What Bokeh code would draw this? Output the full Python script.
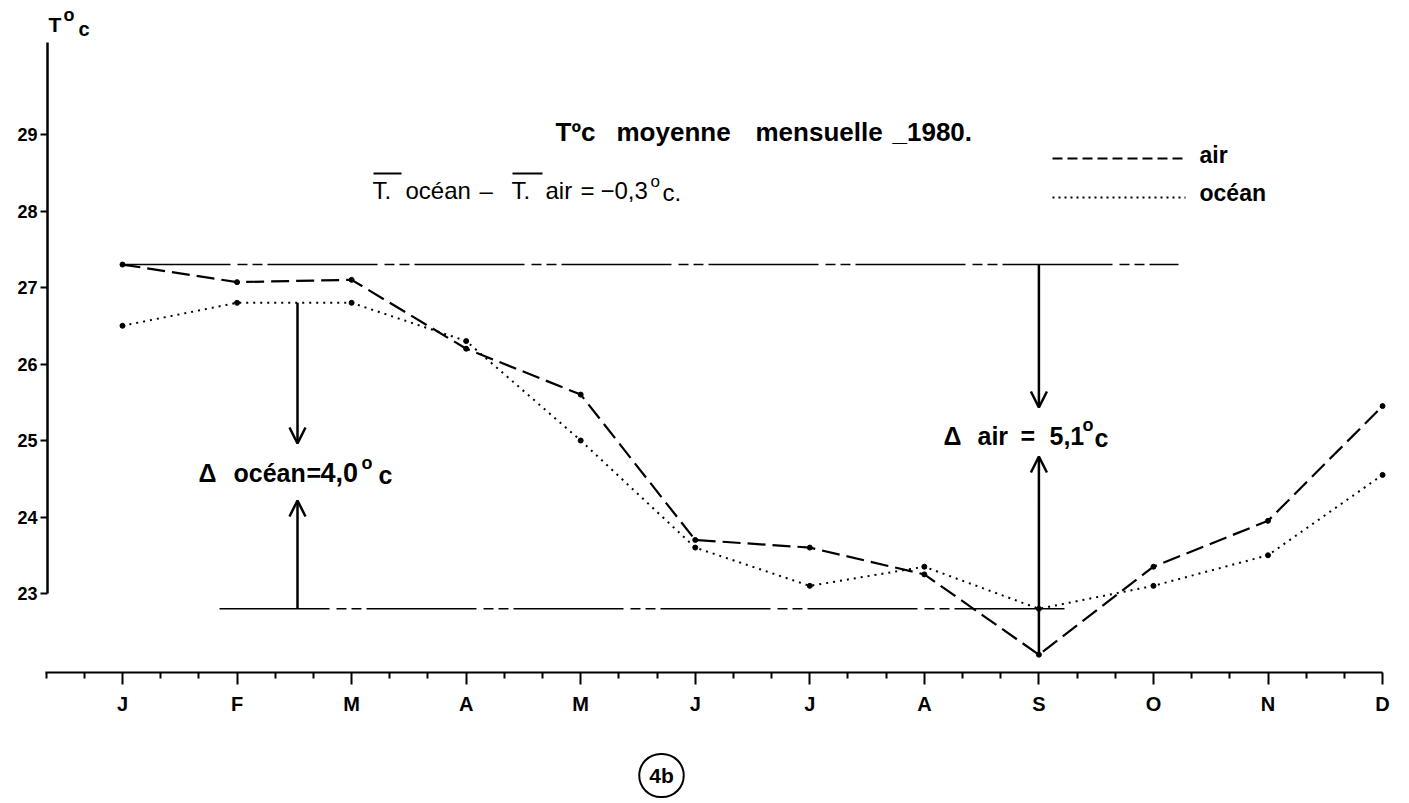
from bokeh.plotting import figure
from bokeh.models import Range1d, FixedTicker, Label, Arrow, OpenHead
from bokeh.embed import file_html
from bokeh.resources import INLINE

# ---------------- data ----------------
months = ["J", "F", "M", "A", "M", "J", "J", "A", "S", "O", "N", "D"]
month_idx = list(range(1, 13))
air = [27.3, 27.07, 27.1, 26.2, 25.6, 23.7, 23.6, 23.25, 22.2, 23.35, 23.95, 25.45]
ocean = [26.5, 26.8, 26.8, 26.3, 25.0, 23.6, 23.1, 23.35, 22.8, 23.1, 23.5, 24.55]
y_ticks = [23, 24, 25, 26, 27, 28, 29]

FONT = "Liberation Sans"
W, H = 1400, 800


# page-pixel -> data helpers (used only for annotation placement)
def mx(px):
    return 1 + (px - 122) / 114.55


def vy(py):
    return 27 - (py - 287) / 76.5


p = figure(width=W, height=H, output_backend="svg", toolbar_location=None,
           x_range=Range1d(mx(0), mx(W)), y_range=Range1d(vy(H), vy(0)),
           min_border=0)
p.outline_line_color = None
p.grid.visible = False
p.background_fill_color = "white"

# ---------------- axes ----------------
xa = p.xaxis[0]
xa.fixed_location = vy(672)
minor = [k / 3 for k in range(1, 37) if k % 3 != 0]
xa.ticker = FixedTicker(ticks=month_idx, minor_ticks=minor)
xa.major_label_overrides = {i: m for i, m in zip(month_idx, months)}
xa.bounds = (mx(45), 12)
xa.axis_line_width = 2
xa.axis_line_color = "black"
xa.major_tick_out = 12
xa.major_tick_in = 0
xa.minor_tick_out = 6
xa.minor_tick_in = 0
xa.major_tick_line_width = 2
xa.minor_tick_line_width = 2
xa.major_label_standoff = 8
xa.major_label_text_font = FONT
xa.major_label_text_font_style = "bold"
xa.major_label_text_font_size = "20px"
xa.major_label_text_color = "black"

ya = p.yaxis[0]
ya.fixed_location = mx(47)
ya.ticker = FixedTicker(ticks=y_ticks, minor_ticks=[])
ya.bounds = (23, vy(42))
ya.axis_line_width = 2.5
ya.axis_line_color = "black"
ya.major_tick_out = 7
ya.major_tick_in = 0
ya.minor_tick_out = 0
ya.minor_tick_in = 0
ya.major_tick_line_width = 2
ya.major_label_standoff = 3
ya.major_label_text_font = FONT
ya.major_label_text_font_style = "bold"
ya.major_label_text_font_size = "18px"
ya.major_label_text_color = "black"

# ---------------- reference lines (max air / min ocean) ----------------
ref_dash = "110 7 10 5 10 5"
p.line([mx(120), mx(1178)], [max(air), max(air)], line_color="black",
       line_width=1.6, line_dash=ref_dash)
p.line([mx(219), mx(1068)], [min(ocean), min(ocean)], line_color="black",
       line_width=1.6, line_dash=ref_dash)

# ---------------- series ----------------
p.line(month_idx, air, line_color="black", line_width=2.2, line_dash="18 7")
p.scatter(month_idx, air, size=5, color="black")
p.line(month_idx, ocean, line_color="black", line_width=2, line_dash="2 5")
p.scatter(month_idx, ocean, size=5, color="black")


# ---------------- arrows ----------------
def arrow(x, y0, y1):
    p.add_layout(Arrow(end=OpenHead(size=16, line_width=2.5, line_color="black"),
                       x_start=x, y_start=y0, x_end=x, y_end=y1,
                       line_width=2.5, line_color="black"))


xo = mx(297)
arrow(xo, max(ocean), vy(443))
arrow(xo, min(ocean), vy(500))
xs = 9
arrow(xs, max(air), vy(407))
arrow(xs, min(air), vy(456))


# ---------------- texts ----------------
def label(px, py, text, size="25px", style="bold", align="left"):
    p.add_layout(Label(x=mx(px), y=vy(py), text=text, text_font=FONT,
                       text_font_size=size, text_font_style=style,
                       text_align=align, text_baseline="middle",
                       text_color="black"))


# delta ocean
label(198, 472, "\u0394")
label(233, 472, "océan")
label(306, 472, "=")
label(320, 472, "4,0", size="27px")
label(361, 462, "o", size="18px")
label(378, 474, "c")
# delta air
label(943, 435, "\u0394")
label(977, 435, "air")
label(1020, 435, "=")
label(1049, 435, "5,1")
label(1082, 424, "o", size="18px")
label(1094, 437, "c")

# title
label(555, 131, "Tºc", size="26px")
label(616, 131, "moyenne", size="26px")
label(755, 131, "mensuelle", size="26px")
label(892, 131, "_1980.", size="26px")

# second line with overbars
label(372, 190, "T.", size="24px", style="normal")
label(405, 190, "océan", size="24px", style="normal")
label(479, 190, "–", size="24px", style="normal")
label(511, 190, "T.", size="24px", style="normal")
label(545, 190, "air", size="24px", style="normal")
label(580, 190, "=", size="24px", style="normal")
label(600, 190, "−0,3", size="24px", style="normal")
label(650, 181, "o", size="17px", style="normal")
label(662, 192, "c.", size="24px", style="normal")
p.line([mx(373), mx(401)], [vy(173), vy(173)], line_color="black", line_width=2)
p.line([mx(512), mx(542)], [vy(173), vy(173)], line_color="black", line_width=2)

# legend
p.line([mx(1052), mx(1185)], [vy(158), vy(158)], line_color="black",
       line_width=2.2, line_dash="10 5")
p.line([mx(1052), mx(1185)], [vy(197), vy(197)], line_color="black",
       line_width=2, line_dash="2 4")
label(1199, 154, "air", size="23px")
label(1199, 192, "océan", size="23px")

# y-axis title
label(48, 24, "T", size="21px")
label(63, 14, "o", size="18px")
label(78, 28, "c", size="20px")

# figure tag
p.add_layout(Label(x=mx(661), y=vy(775), text="4b", text_font=FONT,
                   text_font_size="21px", text_font_style="bold",
                   text_align="center", text_baseline="middle",
                   text_color="black", border_line_color="black",
                   border_line_width=2, border_radius=22, padding=10))

open("out.html", "w").write(file_html(p, INLINE))
